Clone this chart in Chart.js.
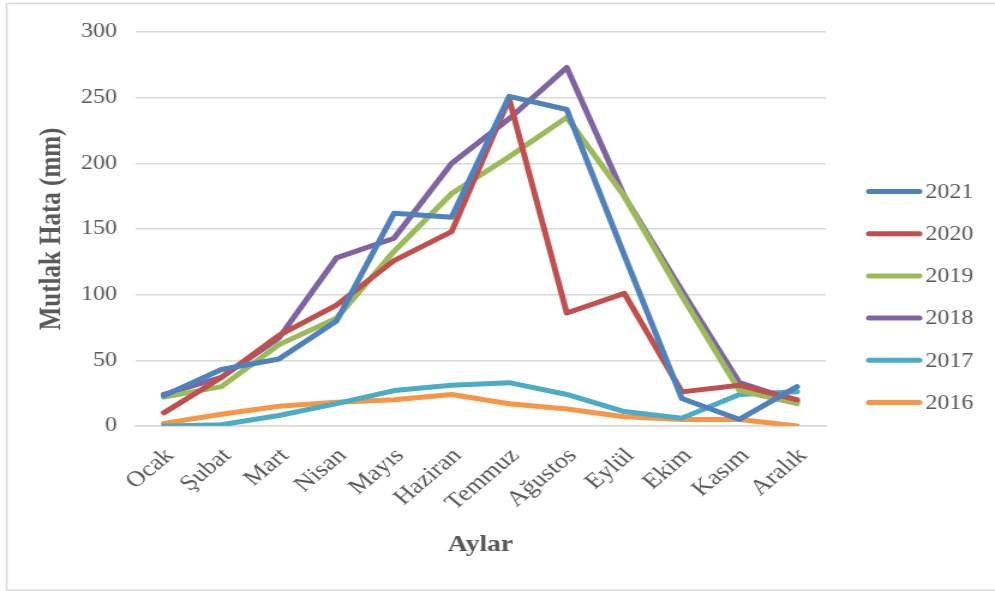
<!DOCTYPE html>
<html>
<head>
<meta charset="utf-8">
<script src="https://cdn.jsdelivr.net/npm/chart.js@4.4.1/dist/chart.umd.min.js"></script>
<style>
  html, body { margin: 0; padding: 0; background: #ffffff; overflow: hidden; }
  #c { display: block; }
</style>
</head>
<body>
<!-- drawn at 829 px wide and shown widened to 995 px -->
<canvas id="c" width="829" height="591" style="width:995px;height:591px"></canvas>
<script>
// Months (x axis categories)
const months = ['Ocak', 'Şubat', 'Mart', 'Nisan', 'Mayıs', 'Haziran', 'Temmuz', 'Ağustos', 'Eylül', 'Ekim', 'Kasım', 'Aralık'];

// Absolute error (mm) per month, one array per year
const y2021 = [23, 43, 51, 80, 162, 159, 251, 241, 130, 21, 5, 30];
const y2020 = [10, 37, 69, 92, 126, 148, 249, 86, 101, 26, 31, 20];
const y2019 = [22, 30, 62, 82, 133, 177, 205, 235, 175, 99, 27, 17];
const y2018 = [24, 37, 67, 128, 143, 200, 234, 273, 175, 103, 33, 19];
const y2017 = [0, 1, 8, 17, 27, 31, 33, 24, 11, 6, 24, 26];
const y2016 = [2, 9, 15, 18, 20, 24, 17, 13, 7, 5, 5, 0];

// Y axis ticks
const yTicks = [0, 50, 100, 150, 200, 250, 300];

const seriesNames = ['2021', '2020', '2019', '2018', '2017', '2016'];
const seriesData = [y2021, y2020, y2019, y2018, y2017, y2016];
const seriesColors = ['#4f81bd', '#c0504d', '#9bbb59', '#8064a2', '#4bacc6', '#f79646'];

const FONT = "'Liberation Serif', 'Times New Roman', serif";
const TEXT = '#595959';

// White page with a thin grey frame
const framePlugin = {
  id: 'frame',
  beforeDraw(chart) {
    const ctx = chart.ctx;
    ctx.save();
    ctx.fillStyle = '#ffffff';
    ctx.fillRect(0, 0, chart.width, chart.height);
    ctx.strokeStyle = '#d9d9d9';
    ctx.lineWidth = 1.5;
    ctx.strokeRect(5.5, 3.5, chart.width, chart.height - 4.5);
    ctx.restore();
  }
};

// Legend on the right: a short rounded line followed by the year
const sideLegend = {
  id: 'sideLegend',
  afterDraw(chart) {
    const ctx = chart.ctx;
    const x0 = 724, x1 = 766, top = 191.5, step = 42.2;
    ctx.save();
    ctx.font = '20px ' + FONT;
    ctx.textBaseline = 'middle';
    ctx.textAlign = 'left';
    chart.data.datasets.forEach((ds, i) => {
      const y = top + i * step;
      ctx.strokeStyle = ds.borderColor;
      ctx.lineWidth = 5;
      ctx.lineCap = 'round';
      ctx.beginPath();
      ctx.moveTo(x0, y);
      ctx.lineTo(x1, y);
      ctx.stroke();
      ctx.fillStyle = TEXT;
      ctx.fillText(ds.label, 771, y + 1);
    });
    ctx.restore();
  }
};

new Chart(document.getElementById('c'), {
  type: 'line',
  data: {
    labels: months,
    datasets: seriesNames.map((name, i) => ({
      label: name,
      data: seriesData[i],
      borderColor: seriesColors[i],
      backgroundColor: seriesColors[i],
      borderWidth: 5,
      pointRadius: 0,
      tension: 0,
      fill: false,
      borderCapStyle: 'round',
      borderJoinStyle: 'round'
    }))
  },
  options: {
    responsive: false,
    animation: false,
    devicePixelRatio: 1,
    layout: { padding: { left: 20, right: 141, top: 32, bottom: 32 } },
    plugins: {
      legend: { display: false },
      tooltip: { enabled: false }
    },
    scales: {
      x: {
        offset: true,
        afterFit(scale) { scale.height = 133; },
        grid: { display: false, drawTicks: false },
        border: { display: true, color: '#d9d9d9', width: 1.5 },
        ticks: {
          color: TEXT,
          font: { family: FONT, size: 22 },
          maxRotation: 45,
          minRotation: 45,
          padding: 17,
          labelOffset: 5,
          autoSkip: false
        },
        title: {
          display: true,
          text: 'Aylar',
          color: TEXT,
          font: { family: FONT, size: 23, weight: 'bold' },
          padding: { top: 0, bottom: 0 }
        }
      },
      y: {
        min: 0,
        max: 300,
        afterBuildTicks(scale) { scale.ticks = yTicks.map(v => ({ value: v })); },
        afterFit(scale) { scale.width = 92.5; },
        grid: { color: '#d9d9d9', lineWidth: 1.5, drawTicks: false },
        border: { display: false },
        ticks: {
          color: TEXT,
          font: { family: FONT, size: 20 },
          padding: 15
        },
        title: {
          display: true,
          text: 'Mutlak Hata (mm)',
          color: TEXT,
          font: { family: FONT, size: 25, weight: 'bold' },
          padding: { top: 8.5, bottom: 8.5 }
        }
      }
    }
  },
  plugins: [framePlugin, sideLegend]
});
</script>
</body>
</html>
